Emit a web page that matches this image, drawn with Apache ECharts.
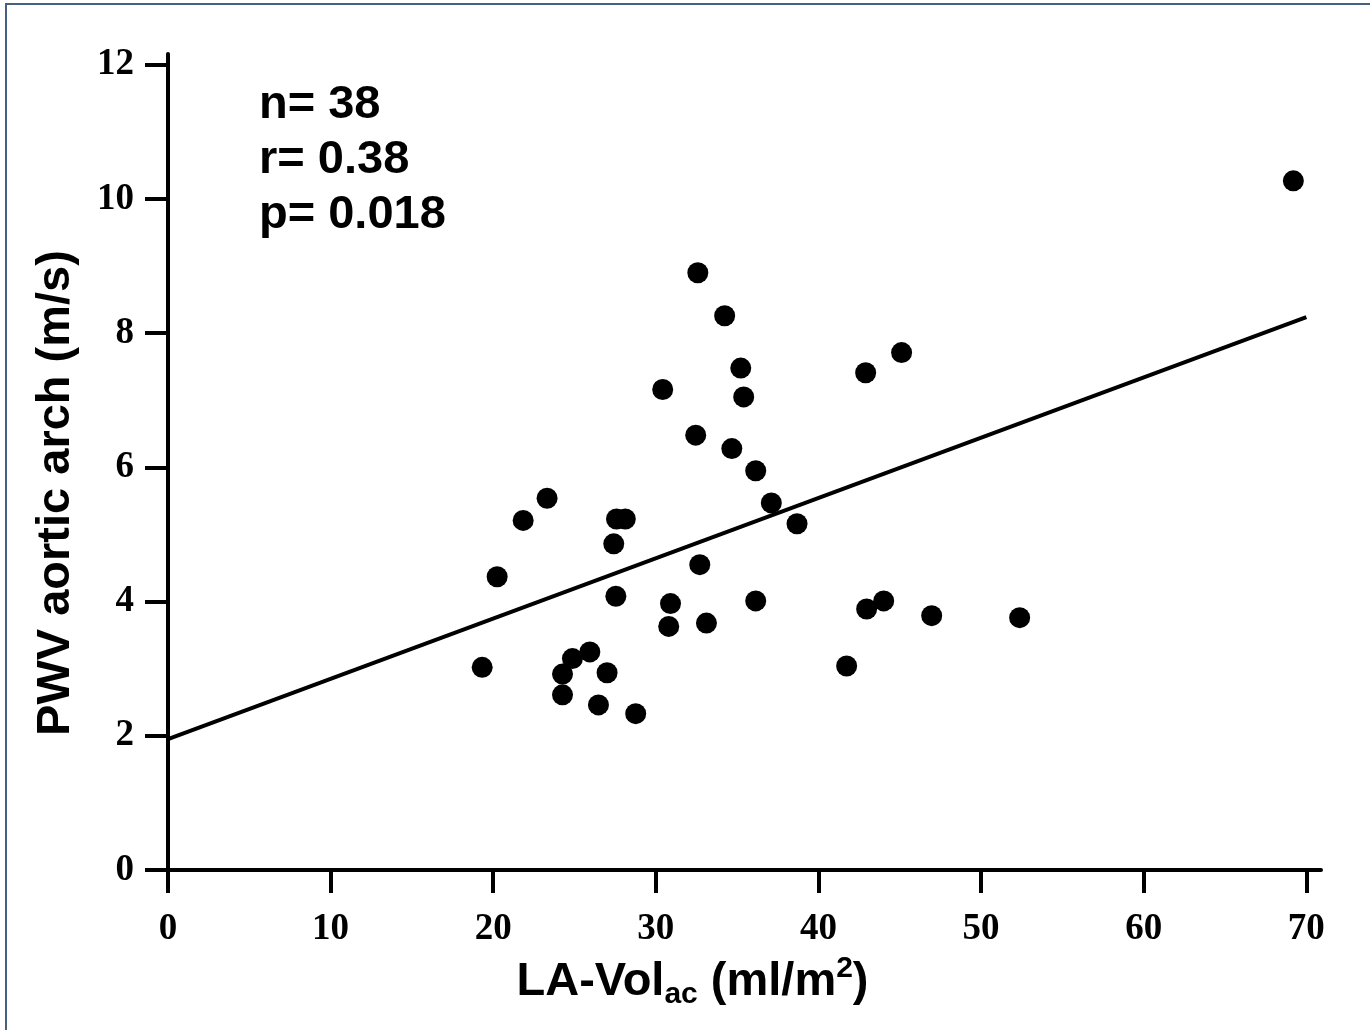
<!DOCTYPE html>
<html>
<head>
<meta charset="utf-8">
<title>PWV vs LA-Vol</title>
<script src="https://cdn.jsdelivr.net/npm/echarts@6.0.0/dist/echarts.min.js"></script>
<style>
  html, body { margin: 0; padding: 0; background: #fff; }
  #chart { width: 1370px; height: 1030px; }
</style>
</head>
<body>
<div id="chart"></div>
<script>
// LA-Vol ac (ml/m2) and PWV aortic arch (m/s)
var laVol = [69.2, 32.58, 34.23, 35.22, 35.40, 30.42, 42.90, 45.11, 32.45, 34.67,
             36.14, 37.10, 38.68, 23.31, 21.84, 27.58, 28.12, 27.41, 20.24, 32.70,
             27.54, 30.90, 30.79, 33.11, 36.14, 42.96, 44.01, 46.96, 52.37, 41.73,
             19.32, 24.26, 24.87, 25.94, 27.00, 24.26, 26.47, 28.76];
var pwv   = [10.27, 8.90, 8.26, 7.48, 7.05, 7.16, 7.41, 7.71, 6.48, 6.28,
             5.95, 5.47, 5.16, 5.54, 5.21, 5.23, 5.23, 4.86, 4.37, 4.55,
             4.08, 3.97, 3.63, 3.68, 4.01, 3.89, 4.01, 3.79, 3.76, 3.04,
             3.02, 2.92, 3.15, 3.25, 2.94, 2.61, 2.46, 2.33];

// regression line end points
var fitX = [0, 70];
var fitY = [1.95, 8.24];

var xTicks = [0, 10, 20, 30, 40, 50, 60, 70];
var yTicks = [0, 2, 4, 6, 8, 10, 12];

var statsText = ['n= 38', 'r= 0.38', 'p= 0.018'];

var points = [];
for (var i = 0; i < laVol.length; i++) {
    points.push([laVol[i], pwv[i]]);
}
var fitLine = [];
for (var j = 0; j < fitX.length; j++) {
    fitLine.push([fitX[j], fitY[j]]);
}

var tickFont = {
    fontFamily: 'Liberation Serif',
    fontWeight: 'bold',
    fontSize: 37,
    color: '#000'
};
var titleFont = 'Liberation Sans';

var option = {
    animation: false,
    backgroundColor: '#fff',
    grid: { left: 168, top: 54, right: 49, bottom: 160 },
    xAxis: {
        type: 'value',
        min: 0,
        max: 70.9,
        splitLine: { show: false },
        axisLine: { show: true, lineStyle: { color: '#000', width: 4 } },
        axisTick: { show: true, length: 23, customValues: xTicks, lineStyle: { color: '#000', width: 4 } },
        axisLabel: Object.assign({ margin: 41, customValues: xTicks }, tickFont),
        name: '{b|LA-Vol}{sub|ac}{b| (ml/m}{sup|2}{b|)}',
        nameLocation: 'middle',
        nameGap: 84,
        nameTextStyle: {
            padding: [0, 104, 0, 0],
            rich: {
                b:   { fontFamily: titleFont, fontWeight: 'bold', fontSize: 47, lineHeight: 56, color: '#000' },
                sub: { fontFamily: titleFont, fontWeight: 'bold', fontSize: 30, lineHeight: 18, verticalAlign: 'bottom', color: '#000' },
                sup: { fontFamily: titleFont, fontWeight: 'bold', fontSize: 30, lineHeight: 40, verticalAlign: 'top', color: '#000' }
            }
        }
    },
    yAxis: {
        type: 'value',
        min: 0,
        max: 12.16,
        splitLine: { show: false },
        axisLine: { show: true, lineStyle: { color: '#000', width: 4 } },
        axisTick: { show: true, length: 23, customValues: yTicks, lineStyle: { color: '#000', width: 4 } },
        axisLabel: Object.assign({ margin: 34, customValues: yTicks }, tickFont),
        name: 'PWV aortic arch (m/s)',
        nameLocation: 'middle',
        nameGap: 84,
        nameTextStyle: {
            fontFamily: titleFont,
            fontWeight: 'bold',
            fontSize: 47,
            lineHeight: 56,
            color: '#000',
            padding: [0, 62, 0, 0]
        }
    },
    graphic: [
        {
            type: 'rect',
            shape: { x: 6, y: 4, width: 1400, height: 1100 },
            style: { fill: 'none', stroke: '#46607f', lineWidth: 2 },
            silent: true
        },
        {
            type: 'text',
            left: 259,
            top: 78,
            style: {
                text: statsText.join('\n'),
                fontFamily: titleFont,
                fontWeight: 'bold',
                fontSize: 47,
                lineHeight: 55,
                fill: '#000'
            }
        }
    ],
    series: [
        {
            name: 'fit',
            type: 'line',
            data: fitLine,
            symbol: 'none',
            lineStyle: { color: '#000', width: 4 },
            z: 2
        },
        {
            name: 'patients',
            type: 'scatter',
            data: points,
            symbol: 'circle',
            symbolSize: 21,
            itemStyle: { color: '#000', opacity: 1 },
            z: 3
        }
    ]
};

var myChart = echarts.init(document.getElementById('chart'));
myChart.setOption(option);
</script>
</body>
</html>
